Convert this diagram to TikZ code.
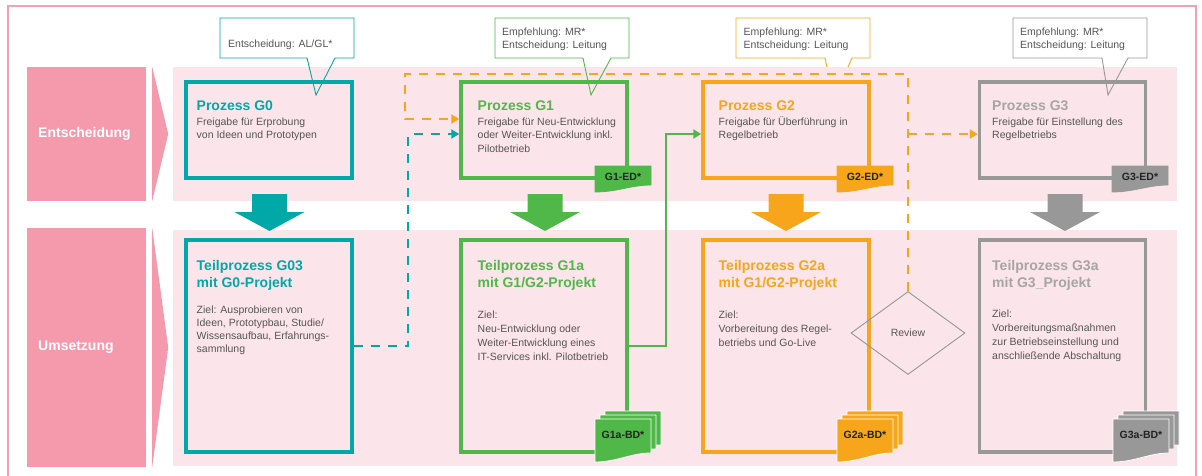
\documentclass[tikz,border=0pt]{standalone}
\usepackage{fontspec}
\setmainfont{Liberation Sans}
\usepackage{xcolor}
\usepackage{tikz}
\usetikzlibrary{positioning, arrows.meta, calc, shapes.geometric}
\definecolor{framepink}{RGB}{243,160,178}
\definecolor{lanepink}{RGB}{244,154,172}
\definecolor{bandpink}{RGB}{252,229,234}
\definecolor{gzero}{RGB}{0,168,168}
\definecolor{gone}{RGB}{80,184,72}
\definecolor{gtwo}{RGB}{247,166,27}
\definecolor{gthree}{RGB}{152,152,152}
\definecolor{gthreetitle}{RGB}{165,165,165}
\definecolor{bodygray}{RGB}{85,85,85}
\definecolor{tagdark}{RGB}{35,35,35}
\definecolor{reviewgray}{RGB}{150,150,150}
\tikzset{
  lane/.style={fill=lanepink, minimum width=119pt, inner sep=0pt},
  lane text/.style={font=\fontsize{14}{16}\selectfont\bfseries, text=white, anchor=west, inner sep=0pt},
  band/.style={fill=bandpink, minimum width=1004pt, inner sep=0pt},
  gate/.style={draw=#1, line width=3.5pt, minimum width=166pt, minimum height=96pt, inner sep=0pt},
  subgate/.style={gate=#1, minimum height=212pt},
  % multi-line texts: the base anchor sits on the last line
  title/.style={font=\fontsize{14}{17}\selectfont\bfseries, text=#1, anchor=base west, inner sep=0pt, align=left},
  body/.style={font=\fontsize{10.5}{#1}\selectfont, text=bodygray, anchor=base west, inner sep=0pt, align=left},
  body/.default=13.5,
  note/.style={font=\fontsize{10.5}{12.6}\selectfont, text=bodygray, anchor=base west, inner sep=0pt, align=left},
  note line/.style={draw=#1, line width=0.9pt},
  tag text/.style={font=\fontsize{10.5}{12}\selectfont\bfseries, text=tagdark, inner sep=0pt},
  review/.style={diamond, draw=reviewgray, line width=0.9pt, minimum width=114pt, minimum height=83pt,
    inner sep=0pt, font=\fontsize{10.5}{12}\selectfont, text=bodygray},
  link/.style={line width=2.2pt, -{Triangle[length=8pt, width=9pt]}},
  dashlink/.style={link, dash pattern=on 9pt off 8pt},
}
% sheet with wavy lower edge: left x, top y, drop right, drop left, fill, outline
\newcommand{\sheet}[6]{%
  \filldraw[fill=#5, draw=#6, line width=0.8pt] (#1,#2) -- (#1+56,#2) -- (#1+56,#2-#3)
    .. controls (#1+36,#2-#3) and (#1+22,#2-#4) .. (#1,#2-#4) -- cycle;
}
% stack of three sheets: left x, colour
\newcommand{\sheetstack}[2]{%
  \sheet{#1+10}{64}{34}{43}{#2}{white}
  \sheet{#1+5}{60}{34}{43}{#2}{white}
  \sheet{#1}{56}{34}{43}{#2}{white}
}
% block arrow between the lanes: centre x, colour
\newcommand{\gatearrow}[2]{%
  \fill[#2] (#1-17.5,281) -- (#1+17.5,281) -- (#1+17.5,263) -- (#1+35,263) -- (#1,244)
    -- (#1-35,263) -- (#1-17.5,263) -- cycle;
}
% speech box outline: left, right, leg a, leg b, tip x, colour
\newcommand{\callout}[6]{%
  \draw[note line=#6] (#3,417) -- (#1,417) |- (#2,457) |- (#4,417) -- (#5,380) -- cycle;
}
\begin{document}
\begin{tikzpicture}[x=1pt, y=1pt]
  \useasboundingbox (0,0) rectangle (1202,475);
  \clip (0,0) rectangle (1202,475);
  \draw[framepink, line width=2pt] (8,-10) rectangle (1196,469);

  % lanes
  \node[lane, minimum height=134pt] (laneE) at (86.5,341) {};
  \node[lane, minimum height=239pt] (laneU) at (86.5,127.5) {};
  \node[lane text] (laneEtext) at (38,341) {Entscheidung};
  \node[lane text] (laneUtext) at (38,128) {Umsetzung};
  \foreach \l in {laneE, laneU}
    \fill[lanepink] ($(\l.north east)+(6,0)$) -- ($(\l.east)+(22,0)$) -- ($(\l.south east)+(6,0)$) -- cycle;
  \node[band, minimum height=134pt] (bandE) at (675,341) {};
  \node[band, minimum height=236pt] (bandU) at (675,127) {};

  % decision gates
  \node[gate=gzero] (g0) at (269,345) {};
  \node[gate=gone] (g1) at (544,345) {};
  \node[gate=gtwo] (g2) at (786,345) {};
  \node[gate=gthree] (g3) at (1062.5,345) {};
  \node[title=gzero] (g0title) at (196.5,364) {Prozess G0};
  \node[body] (g0body) at (196.5,336.5) {Freigabe für Erprobung\\von Ideen und Prototypen};
  \node[title=gone] (g1title) at (477.5,364) {Prozess G1};
  \node[body] (g1body) at (477.5,323) {Freigabe für Neu-Entwicklung\\oder Weiter-Entwicklung inkl.\\Pilotbetrieb};
  \node[title=gtwo] (g2title) at (718.5,364) {Prozess G2};
  \node[body] (g2body) at (718.5,336.5) {Freigabe für Überführung in\\Regelbetrieb};
  \node[title=gthreetitle] (g3title) at (992,364) {Prozess G3};
  \node[body] (g3body) at (992,336.5) {Freigabe für Einstellung des\\Regelbetriebs};

  % sub processes
  \node[subgate=gzero] (g03) at (269,129) {};
  \node[subgate=gone] (g1a) at (544,129) {};
  \node[subgate=gtwo] (g2a) at (786,129) {};
  \node[subgate=gthree] (g3a) at (1062.5,129) {};
  \node[title=gzero] (g03title) at (196.5,188) {Teilprozess G03\\mit G0-Projekt};
  \node[body=13] (g03body) at (196.5,123) {Ziel: Ausprobieren von\\Ideen, Prototypbau, Studie/\\Wissensaufbau, Erfahrungs-\\sammlung};
  \node[title=gone] (g1atitle) at (477.5,188) {Teilprozess G1a\\mit G1/G2-Projekt};
  \node[body=14.2] (g1abody) at (477.5,114.4) {Ziel:\\Neu-Entwicklung oder\\Weiter-Entwicklung eines\\IT-Services inkl. Pilotbetrieb};
  \node[title=gtwo] (g2atitle) at (718.5,188) {Teilprozess G2a\\mit G1/G2-Projekt};
  \node[body=14.2] (g2abody) at (718.5,128.6) {Ziel:\\Vorbereitung des Regel-\\betriebs und Go-Live};
  \node[title=gthreetitle] (g3atitle) at (992,188) {Teilprozess G3a\\mit G3\_Projekt};
  \node[body=14.2] (g3abody) at (992,115.4) {Ziel:\\Vorbereitungsmaßnahmen\\zur Betriebseinstellung und\\anschließende Abschaltung};

  \gatearrow{269.5}{gzero}
  \gatearrow{545}{gone}
  \gatearrow{786}{gtwo}
  \gatearrow{1065}{gthree}

  % decision documents
  \sheet{595}{309}{19}{26}{gone}{gone}
  \node[tag text] (g1ed) at (623,298) {G1-ED*};
  \sheet{837}{309}{19}{26}{gtwo}{gtwo}
  \node[tag text] (g2ed) at (865,298) {G2-ED*};
  \sheet{1112}{309}{19}{26}{gthree}{gthree}
  \node[tag text] (g3ed) at (1140,298) {G3-ED*};

  % build documents
  \sheetstack{595}{gone}
  \node[tag text] (g1abd) at (623,40) {G1a-BD*};
  \sheetstack{837}{gtwo}
  \node[tag text] (g2abd) at (865,40) {G2a-BD*};
  \sheetstack{1113}{gthree}
  \node[tag text] (g3abd) at (1141,40) {G3a-BD*};

  \node[review] (review) at (908,142) {Review};

  % flows
  \draw[dashlink, gzero] (g03.east) -| ($(g1.west)+(-51,-4)$) -- ([yshift=-4pt]g1.west);
  \draw[link, gone] (g1a.east) -| ($(g2.west)+(-35,-4)$) -- ([yshift=-4pt]g2.west);
  \draw[dashlink, gtwo] (review.north) |- (405,401) |- ([yshift=11pt]g1.west);
  \draw[dashlink, gtwo] ($(review.north |- g3.west)+(0,-4)$) -- ([yshift=-4pt]g3.west);

  % who decides
  \callout{220}{354}{307}{335}{316}{gzero}
  \node[note] (n0) at (228,427) {Entscheidung: AL/GL*};
  \callout{495}{629}{583}{611}{591}{gone}
  \node[note] (n1) at (502,426.4) {Empfehlung: MR*\\Entscheidung: Leitung};
  \draw[note line=gtwo] (825,417) -- (736,417) |- (870,457) |- (852,417) -- (848,408);
  \draw[note line=gtwo] (825,417) -- (827,408);
  \node[note] (n2) at (743.5,426.4) {Empfehlung: MR*\\Entscheidung: Leitung};
  \callout{1013}{1147}{1102}{1128}{1108}{gthree}
  \node[note] (n3) at (1020,426.4) {Empfehlung: MR*\\Entscheidung: Leitung};
\end{tikzpicture}
\end{document}
